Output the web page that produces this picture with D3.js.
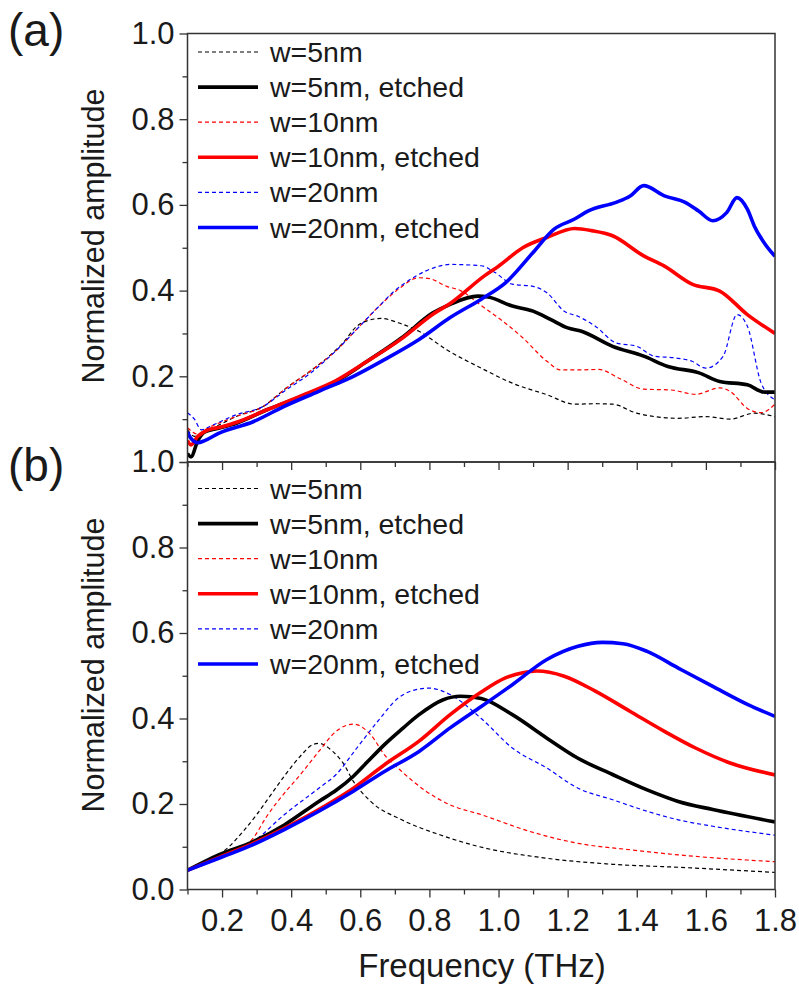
<!DOCTYPE html>
<html>
<head>
<meta charset="utf-8">
<script src="https://cdn.jsdelivr.net/npm/d3@7"></script>
<style>
  html, body { margin: 0; padding: 0; background: #fff; }
  svg { display: block; }
  text { font-family: "Liberation Sans", Arial, sans-serif; fill: #1a1a1a; }
</style>
</head>
<body>
<svg id="chart" width="799" height="988"></svg>
<script>
// ---------- data : panel (a) ----------
const a_w5_f  = [0.10,0.12,0.15,0.20,0.24,0.32,0.38,0.46,0.51,0.55,0.59,0.63,0.66,0.71,0.77,0.85,0.95,1.04,1.14,1.22,1.28,1.33,1.40,1.52,1.60,1.67,1.74,1.80];
const a_w5_v  = [0.075,0.06,0.07,0.09,0.106,0.13,0.169,0.215,0.247,0.278,0.317,0.332,0.335,0.325,0.305,0.262,0.219,0.184,0.157,0.135,0.136,0.135,0.114,0.102,0.106,0.100,0.114,0.106];

const a_w5e_f = [0.10,0.11,0.13,0.15,0.18,0.24,0.33,0.43,0.53,0.62,0.72,0.81,0.86,0.94,0.97,1.04,1.10,1.15,1.20,1.24,1.33,1.42,1.49,1.58,1.64,1.72,1.77,1.80];
const a_w5e_v = [0.02,0.012,0.05,0.07,0.077,0.09,0.122,0.153,0.188,0.235,0.29,0.348,0.368,0.387,0.385,0.364,0.352,0.333,0.313,0.305,0.27,0.247,0.223,0.208,0.188,0.18,0.163,0.163];

const a_w10_f  = [0.10,0.13,0.15,0.24,0.32,0.38,0.46,0.53,0.59,0.65,0.71,0.77,0.80,0.85,0.89,0.95,1.01,1.07,1.14,1.18,1.24,1.29,1.35,1.42,1.50,1.57,1.64,1.67,1.72,1.76,1.80];
const a_w10_v  = [0.08,0.065,0.075,0.106,0.13,0.169,0.215,0.26,0.31,0.36,0.403,0.43,0.428,0.41,0.40,0.365,0.33,0.29,0.235,0.215,0.215,0.216,0.195,0.17,0.168,0.158,0.173,0.165,0.125,0.115,0.135];

const a_w10e_f = [0.10,0.11,0.13,0.16,0.20,0.24,0.33,0.43,0.53,0.62,0.72,0.81,0.86,0.96,1.00,1.07,1.14,1.22,1.27,1.33,1.42,1.48,1.56,1.64,1.72,1.80];
const a_w10e_v = [0.05,0.04,0.06,0.075,0.082,0.092,0.122,0.155,0.19,0.235,0.288,0.345,0.37,0.435,0.457,0.5,0.524,0.545,0.54,0.528,0.481,0.457,0.415,0.399,0.344,0.30];

const a_w20_f  = [0.10,0.12,0.14,0.17,0.24,0.32,0.38,0.46,0.53,0.59,0.65,0.70,0.73,0.79,0.86,0.95,0.99,1.04,1.10,1.14,1.19,1.23,1.28,1.34,1.40,1.45,1.51,1.56,1.60,1.65,1.69,1.72,1.76,1.80];
const a_w20_v  = [0.115,0.10,0.075,0.085,0.11,0.13,0.165,0.21,0.26,0.31,0.36,0.40,0.418,0.446,0.461,0.458,0.442,0.415,0.41,0.395,0.352,0.34,0.317,0.278,0.27,0.247,0.243,0.235,0.219,0.247,0.344,0.317,0.184,0.145];

const a_w20e_f = [0.10,0.11,0.13,0.15,0.19,0.29,0.38,0.48,0.58,0.67,0.77,0.86,0.95,1.02,1.10,1.16,1.22,1.26,1.34,1.38,1.42,1.48,1.54,1.58,1.62,1.66,1.69,1.72,1.74,1.77,1.80];
const a_w20e_v = [0.07,0.055,0.045,0.05,0.067,0.094,0.13,0.165,0.20,0.239,0.286,0.337,0.38,0.418,0.489,0.543,0.567,0.586,0.606,0.62,0.645,0.621,0.606,0.585,0.563,0.582,0.617,0.59,0.551,0.51,0.48];

// ---------- data : panel (b) ----------
const b_w5_f  = [0.10,0.18,0.22,0.26,0.30,0.34,0.38,0.43,0.46,0.48,0.52,0.55,0.58,0.63,0.72,0.83,0.94,1.14,1.33,1.52,1.80];
const b_w5_v  = [0.045,0.075,0.10,0.135,0.175,0.22,0.265,0.315,0.338,0.342,0.323,0.296,0.253,0.206,0.163,0.128,0.101,0.073,0.059,0.052,0.04];

const b_w5e_f = [0.10,0.19,0.29,0.38,0.48,0.53,0.58,0.62,0.67,0.72,0.77,0.84,0.89,0.95,1.04,1.14,1.23,1.33,1.43,1.52,1.62,1.80];
const b_w5e_v = [0.045,0.081,0.112,0.151,0.206,0.232,0.265,0.298,0.339,0.375,0.409,0.444,0.452,0.447,0.409,0.354,0.307,0.269,0.233,0.206,0.187,0.158];

const b_w10_f  = [0.10,0.20,0.24,0.29,0.33,0.38,0.43,0.48,0.53,0.58,0.63,0.67,0.72,0.79,0.86,0.95,1.09,1.23,1.38,1.52,1.80];
const b_w10_v  = [0.045,0.075,0.089,0.12,0.172,0.225,0.272,0.323,0.37,0.387,0.362,0.315,0.276,0.23,0.198,0.175,0.136,0.108,0.093,0.081,0.065];

const b_w10e_f = [0.10,0.20,0.29,0.38,0.48,0.58,0.67,0.77,0.86,0.95,1.02,1.07,1.11,1.19,1.28,1.38,1.48,1.57,1.67,1.80];
const b_w10e_v = [0.045,0.078,0.108,0.143,0.187,0.237,0.292,0.347,0.409,0.462,0.495,0.507,0.511,0.499,0.464,0.417,0.37,0.331,0.296,0.268];

const b_w20_f  = [0.10,0.20,0.29,0.38,0.48,0.53,0.59,0.65,0.71,0.75,0.80,0.86,0.95,1.04,1.14,1.23,1.33,1.43,1.52,1.62,1.80];
const b_w20_v  = [0.045,0.08,0.112,0.175,0.237,0.269,0.331,0.393,0.448,0.465,0.471,0.456,0.40,0.331,0.284,0.237,0.21,0.183,0.163,0.148,0.127];

const b_w20e_f = [0.10,0.20,0.29,0.38,0.48,0.58,0.67,0.77,0.86,0.95,1.04,1.14,1.23,1.30,1.36,1.43,1.52,1.62,1.72,1.80];
const b_w20e_v = [0.045,0.076,0.105,0.14,0.183,0.23,0.276,0.323,0.378,0.428,0.479,0.538,0.569,0.578,0.575,0.557,0.518,0.475,0.433,0.405];

// ---------- legend / axis labels ----------
const seriesNames = ["w=5nm", "w=5nm, etched", "w=10nm", "w=10nm, etched", "w=20nm", "w=20nm, etched"];
const seriesColors = ["#000000", "#000000", "#ff0000", "#ff0000", "#0000ff", "#0000ff"];
const seriesEtched = [false, true, false, true, false, true];
const xTickValues = [0.2, 0.4, 0.6, 0.8, 1.0, 1.2, 1.4, 1.6, 1.8];
const yTickValues = [0.0, 0.2, 0.4, 0.6, 0.8, 1.0];
const panelLabels = ["(a)", "(b)"];
const xTitle = "Frequency (THz)";
const yTitle = "Normalized amplitude";

const panelA = [[a_w5_f, a_w5_v], [a_w5e_f, a_w5e_v], [a_w10_f, a_w10_v], [a_w10e_f, a_w10e_v], [a_w20_f, a_w20_v], [a_w20e_f, a_w20e_v]];
const panelB = [[b_w5_f, b_w5_v], [b_w5e_f, b_w5e_v], [b_w10_f, b_w10_v], [b_w10e_f, b_w10e_v], [b_w20_f, b_w20_v], [b_w20e_f, b_w20e_v]];

// ---------- layout ----------
const svg = d3.select("#chart");
const left = 187.5, right = 775;
const panels = [
  { top: 33.5, bottom: 462, data: panelA, legendTop: 52, label: panelLabels[0], labelY: 46, titleY: 236, yLabelTicks: [0.2, 0.4, 0.6, 0.8, 1.0] },
  { top: 462, bottom: 889.5, data: panelB, legendTop: 488.5, label: panelLabels[1], labelY: 481, titleY: 665, yLabelTicks: yTickValues }
];
const legendStep = 35.1;

const x = d3.scaleLinear().domain([0.1, 1.8]).range([left, right]);

panels.forEach((p, pi) => {
  const y = d3.scaleLinear().domain([0, 1]).range([p.bottom, p.top]);
  const g = svg.append("g");

  const clipId = "clip" + pi;
  svg.append("clipPath").attr("id", clipId)
    .append("rect").attr("x", left).attr("y", p.top).attr("width", right - left).attr("height", p.bottom - p.top);

  // curves: dashed first, then thick etched lines on top
  const line = d3.line().x(d => x(d[0])).y(d => y(d[1])).curve(d3.curveMonotoneX);
  const order = [0, 2, 4, 1, 3, 5];
  const lines = g.append("g").attr("clip-path", `url(#${clipId})`);
  order.forEach(i => {
    const [fs, vs] = p.data[i];
    const pts = fs.map((f, k) => [f, vs[k]]);
    lines.append("path")
      .attr("d", line(pts))
      .attr("fill", "none")
      .attr("stroke", seriesColors[i])
      .attr("stroke-width", seriesEtched[i] ? 3.6 : 1.2)
      .attr("stroke-dasharray", seriesEtched[i] ? null : "4,3")
      .attr("stroke-linejoin", "round");
  });

  // axes
  const fmt = d3.format(".1f");
  const yMajor = d3.axisLeft(y).tickValues(yTickValues).tickSize(8).tickPadding(5)
    .tickFormat(d => p.yLabelTicks.includes(d) ? fmt(d) : "");
  const yMinor = d3.axisLeft(y).tickValues([0.1, 0.3, 0.5, 0.7, 0.9]).tickSize(5).tickFormat("");
  const xMajor = d3.axisBottom(x).tickValues(xTickValues).tickSize(8).tickPadding(11)
    .tickFormat(d => pi === 1 ? fmt(d) : "");
  const xMinor = d3.axisBottom(x).tickValues([0.1, 0.3, 0.5, 0.7, 0.9, 1.1, 1.3, 1.5, 1.7]).tickSize(5).tickFormat("");

  [yMajor, yMinor].forEach(ax => {
    const a = g.append("g").attr("transform", `translate(${left},0)`).call(ax.tickSizeOuter(0));
    a.select(".domain").remove();
  });
  [xMajor, xMinor].forEach(ax => {
    const a = g.append("g").attr("transform", `translate(0,${p.bottom})`).call(ax.tickSizeOuter(0));
    a.select(".domain").remove();
  });
  g.selectAll(".tick line").attr("stroke", "#333").attr("stroke-width", 1.3);
  g.selectAll(".tick text").attr("font-size", 31).attr("font-family", "Liberation Sans, Arial, sans-serif").attr("fill", "#1a1a1a");

  // frame
  g.append("rect").attr("x", left).attr("y", p.top).attr("width", right - left).attr("height", p.bottom - p.top)
    .attr("fill", "none").attr("stroke", "#333").attr("stroke-width", 1.5);

  // legend
  const lg = g.append("g");
  seriesNames.forEach((name, i) => {
    const ly = p.legendTop + i * legendStep;
    lg.append("line").attr("x1", 198).attr("x2", 258).attr("y1", ly).attr("y2", ly)
      .attr("stroke", seriesColors[i])
      .attr("stroke-width", seriesEtched[i] ? 3.6 : 1.2)
      .attr("stroke-dasharray", seriesEtched[i] ? null : "4,3");
    lg.append("text").attr("x", 270).attr("y", ly + 10).attr("font-size", 28.5).text(name);
  });

  // y title
  svg.append("text")
    .attr("transform", `translate(104,${p.titleY}) rotate(-90)`)
    .attr("text-anchor", "middle").attr("font-size", 30.5).text(yTitle);

  // panel label
  svg.append("text").attr("x", 8).attr("y", p.labelY).attr("font-size", 46).text(p.label);
});

svg.append("text").attr("x", 482).attr("y", 977)
  .attr("text-anchor", "middle").attr("font-size", 33).text(xTitle);
</script>
</body>
</html>
